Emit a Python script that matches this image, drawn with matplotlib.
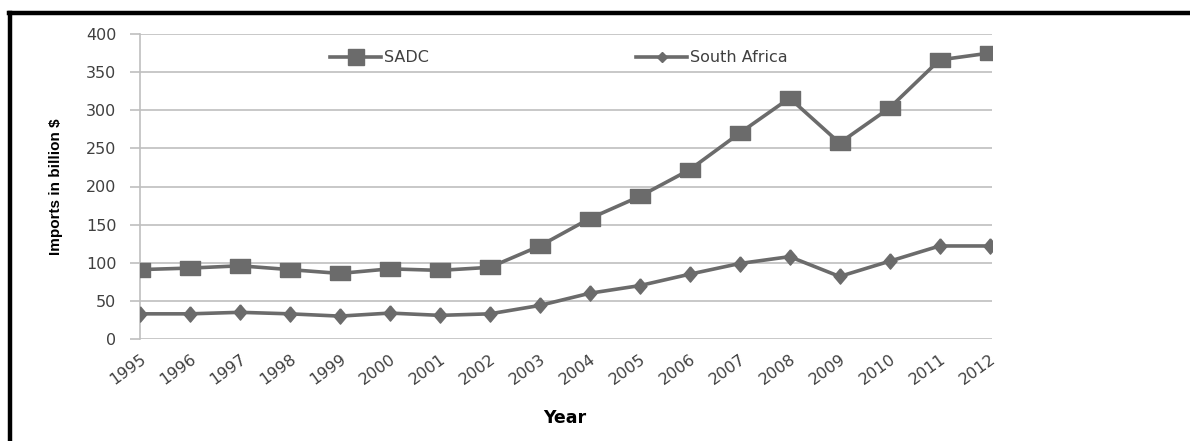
import matplotlib.pyplot as plt
from matplotlib.lines import Line2D

# Imports, billion US$
years = list(range(1995, 2013))
sadc = [91, 93, 96, 91, 86, 92, 90, 94, 122, 158, 187, 222, 270, 316, 257, 303, 366, 375]
south_africa = [33, 33, 35, 33, 30, 34, 31, 33, 44, 60, 70, 85, 99, 108, 82, 102, 122, 122]

grey = '#6b6b6b'
grid_grey = '#bfbfbf'
text_grey = '#404040'

# slightly wide square and slightly tall diamond markers
rect = [(-1, -0.65), (1, -0.65), (1, 0.65), (-1, 0.65), (-1, -0.65)]
diamond = [(0, 1), (0.85, 0), (0, -1), (-0.85, 0), (0, 1)]

fig = plt.figure(figsize=(11.9, 4.41), dpi=100)
ax = fig.add_axes([140 / 1190, 1 - 339 / 441, 852 / 1190, 305 / 441])

ax.plot(years, sadc, color=grey, lw=2.6, marker=rect, markersize=14.5,
        markerfacecolor=grey, markeredgecolor=grey, zorder=3)
ax.plot(years, south_africa, color=grey, lw=2.6, marker=diamond, markersize=11,
        markerfacecolor=grey, markeredgecolor=grey, zorder=3)

ax.set_xlim(1995, 2012.05)
ax.set_ylim(0, 400)
ax.set_yticks(range(0, 401, 50))
ax.set_xticks(years)
ax.set_xticklabels([str(y) for y in years], rotation=36, ha='right', va='top',
                   rotation_mode='anchor')

ax.yaxis.grid(True, color=grid_grey, lw=1.2)
ax.set_axisbelow(True)
for side in ['top', 'right', 'bottom']:
    ax.spines[side].set_visible(False)
ax.spines['left'].set_color(grid_grey)
ax.spines['left'].set_linewidth(1.2)

ax.tick_params(axis='y', length=7, width=1.2, color=grid_grey, labelsize=11.5,
               labelcolor=text_grey, pad=10)
ax.tick_params(axis='x', length=0, labelsize=11.5, labelcolor=text_grey, pad=9)

ax.set_ylabel('Imports in billion $', fontsize=11, fontweight='bold',
              family=['Liberation Sans Narrow', 'Liberation Sans'])
ax.yaxis.set_label_coords(-77 / 852, 0.5)
ax.set_xlabel('Year', fontsize=12.5, fontweight='bold')
ax.xaxis.set_label_coords(425 / 852, -70 / 305)

handles = [
    Line2D([], [], color=grey, lw=2.6, marker='s', markersize=11,
           markerfacecolor=grey, markeredgecolor=grey),
    Line2D([], [], color=grey, lw=2.6, marker='D', markersize=5,
           markerfacecolor=grey, markeredgecolor=grey),
]
ax.legend(handles, ['SADC', 'South Africa'], ncol=2, frameon=False,
          loc='center left', bbox_to_anchor=(190 / 852, 281 / 305),
          borderaxespad=0, borderpad=0, handlelength=3.2, handletextpad=0.15,
          columnspacing=13.0, fontsize=11.5, labelcolor=text_grey)

# page frame around the figure
fig.add_artist(Line2D([10 / 1190, 10 / 1190], [0, 1 - 13 / 441],
                      color='black', lw=3.2, transform=fig.transFigure))
fig.add_artist(Line2D([8.5 / 1190, 1], [1 - 13 / 441, 1 - 13 / 441],
                      color='black', lw=3.2, transform=fig.transFigure))

fig.savefig('out.png', dpi=100)
